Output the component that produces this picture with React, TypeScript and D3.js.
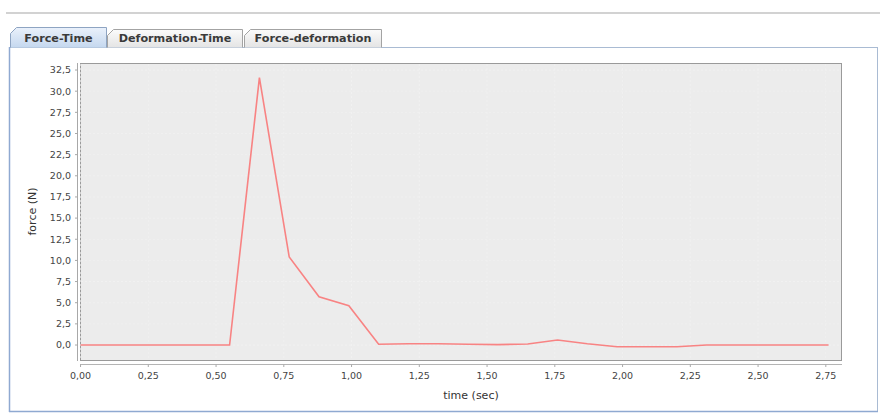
import React from "react";
import * as d3 from "d3";

// force vs time samples (sec, N)
const timeValues = [
  0, 0.11, 0.22, 0.33, 0.44, 0.55, 0.66, 0.77, 0.88, 0.99, 1.1, 1.21, 1.32, 1.43,
  1.54, 1.65, 1.76, 1.87, 1.98, 2.09, 2.2, 2.31, 2.42, 2.53, 2.64, 2.76,
];
const forceValues = [
  0, 0, 0, 0, 0, 0, 31.6, 10.4, 5.7, 4.65, 0.1, 0.15, 0.15, 0.1, 0.05, 0.12, 0.6,
  0.15, -0.2, -0.2, -0.2, 0, 0, 0, 0, 0,
];
const xTicks = [0, 0.25, 0.5, 0.75, 1, 1.25, 1.5, 1.75, 2, 2.25, 2.5, 2.75];
const yTicks = [0, 2.5, 5, 7.5, 10, 12.5, 15, 17.5, 20, 22.5, 25, 27.5, 30, 32.5];
const tabs = ["Force-Time", "Deformation-Time", "Force-deformation"];
const xLabel = "time (sec)";
const yLabel = "force (N)";

const W = 880;
const H = 416;
const plot = { left: 80, right: 841, top: 63, bottom: 360 };

const comma = (f: string) => (v: number) => d3.format(f)(v).replace(".", ",");

const App = () => {
  const x = d3.scaleLinear().domain([-0.002, 2.806]).range([plot.left, plot.right]);
  const y = d3.scaleLinear().domain([-1.77, 33.33]).range([plot.bottom, plot.top]);

  const points = timeValues.map((t, i) => [t, forceValues[i]] as [number, number]);
  const line = d3
    .line<[number, number]>()
    .x((d) => x(d[0]))
    .y((d) => y(d[1]));

  const fx = comma(".2f");
  const fy = comma(".1f");

  const tabX = [10, 107, 244];
  const tabW = [97, 136, 138];
  const font = "'DejaVu Sans', Tahoma, sans-serif";

  return (
    <div style={{ position: "absolute", left: 0, top: 0 }}>
      <svg width={W} height={H} style={{ display: "block", background: "#fff" }}>
        <defs>
          <linearGradient id="tabSel" x1="0" y1="0" x2="0" y2="1">
            <stop offset="0" stopColor="#eaf1fb" />
            <stop offset="1" stopColor="#c5d8ef" />
          </linearGradient>
          <linearGradient id="tabOff" x1="0" y1="0" x2="0" y2="1">
            <stop offset="0" stopColor="#fbfbfb" />
            <stop offset="1" stopColor="#e4e4e4" />
          </linearGradient>
        </defs>

        {/* top separator */}
        <rect x={6} y={12} width={W - 6} height={2} fill="#d2d2d2" />

        {/* content panel */}
        <rect x={9.5} y={47.5} width={868} height={364} fill="#fff" stroke="#a9bbd3" />
        <line x1={9.5} x2={9.5} y1={47} y2={412} stroke="#8fa9d1" strokeWidth={1.5} />
        <line x1={9} x2={878} y1={411.5} y2={411.5} stroke="#8fa9d1" strokeWidth={1.5} />

        {/* tabs */}
        {tabs.map((name, i) => {
          const sel = i === 0;
          const x0 = tabX[i];
          const w = tabW[i];
          const top = sel ? 27.5 : 29.5;
          const bottom = 47.5;
          const d = `M${x0 + 0.5},${bottom} L${x0 + 0.5},${top + 6} L${x0 + 6.5},${top} L${x0 + w - 0.5},${top} L${x0 + w - 0.5},${bottom}`;
          return (
            <g key={name}>
              <path
                d={d}
                fill={sel ? "url(#tabSel)" : "url(#tabOff)"}
                stroke={sel ? "#8ea4c2" : "#a3a3a3"}
              />
              <text
                x={x0 + w / 2}
                y={42}
                textAnchor="middle"
                fontFamily={font}
                fontSize={11.2}
                fontWeight="bold"
                fill="#3a3a3a"
              >
                {name}
              </text>
            </g>
          );
        })}

        {/* plot area */}
        <rect
          x={plot.left + 0.5}
          y={plot.top + 0.5}
          width={plot.right - plot.left}
          height={plot.bottom - plot.top}
          fill="#ececec"
          stroke="#9a9a9a"
        />
        {xTicks.map((t) => (
          <line
            key={"gx" + t}
            x1={x(t)}
            x2={x(t)}
            y1={plot.top + 1}
            y2={plot.bottom}
            stroke="#f4f4f4"
            strokeDasharray="2,2"
            strokeWidth={0.6}
          />
        ))}
        {yTicks.map((t) => (
          <line
            key={"gy" + t}
            x1={plot.left + 1}
            x2={plot.right}
            y1={y(t)}
            y2={y(t)}
            stroke="#f4f4f4"
            strokeDasharray="2,2"
            strokeWidth={0.6}
          />
        ))}

        <path d={line(points) || ""} fill="none" stroke="#f88383" strokeWidth={1.6} />

        {/* y axis */}
        <line x1={77.5} x2={77.5} y1={plot.top} y2={plot.bottom + 1} stroke="#a8a8a8" />
        {yTicks.map((t) => (
          <g key={"ty" + t}>
            <line x1={75} x2={77.5} y1={y(t)} y2={y(t)} stroke="#a8a8a8" />
            <text
              x={71}
              y={y(t)}
              dy="0.35em"
              textAnchor="end"
              fontFamily={font}
              fontSize={9.5}
              fill="#444"
            >
              {fy(t)}
            </text>
          </g>
        ))}
        <text
          transform={`translate(36,${(plot.top + plot.bottom) / 2}) rotate(-90)`}
          textAnchor="middle"
          fontFamily={font}
          fontSize={11}
          fill="#333"
        >
          {yLabel}
        </text>

        {/* x axis */}
        <line x1={plot.left} x2={plot.right + 1} y1={364.5} y2={364.5} stroke="#b4b4b4" />
        {xTicks.map((t) => (
          <g key={"tx" + t}>
            <line x1={x(t)} x2={x(t)} y1={364.5} y2={367} stroke="#a8a8a8" />
            <text
              x={x(t)}
              y={379}
              textAnchor="middle"
              fontFamily={font}
              fontSize={9.5}
              fill="#444"
            >
              {fx(t)}
            </text>
          </g>
        ))}
        <text
          x={471}
          y={399}
          textAnchor="middle"
          fontFamily={font}
          fontSize={11}
          fill="#333"
        >
          {xLabel}
        </text>
      </svg>
    </div>
  );
};

export default App;
